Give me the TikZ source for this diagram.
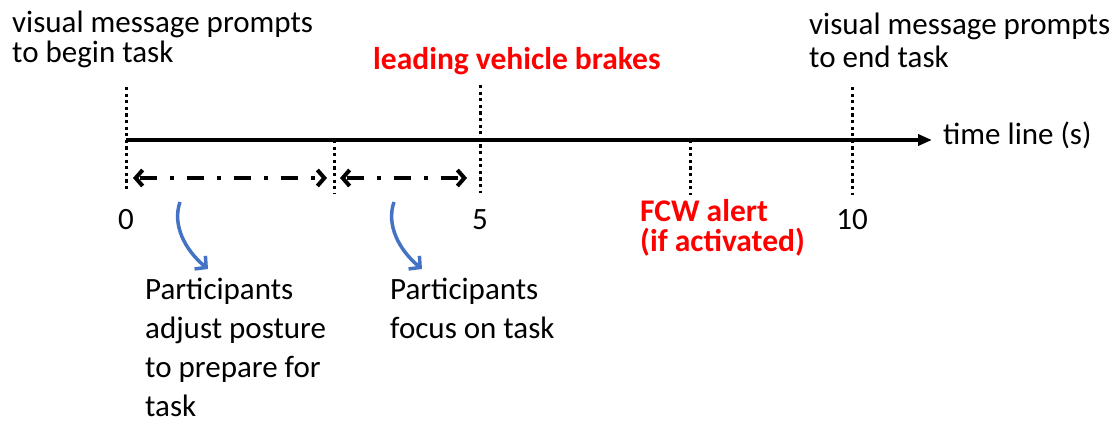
\documentclass[tikz,border=0pt]{standalone}
\usepackage{fontspec}
\setmainfont{Carlito}
\usetikzlibrary{arrows.meta}
\definecolor{alertred}{RGB}{255,0,0}
\definecolor{curveblue}{RGB}{68,114,196}
\tikzset{
  txt/.style={anchor=base west, inner sep=0pt, align=left, font=\fontsize{31}{30}\selectfont},
  redtxt/.style={txt, text=alertred, font=\fontsize{31.5}{30}\selectfont\bfseries},
  numtxt/.style={anchor=base, inner sep=0pt, font=\fontsize{31}{30}\selectfont},
  dotline/.style={line width=3pt, dash pattern=on 3.3pt off 3.3pt},
  span/.style={line width=4pt, dash pattern=on 4pt off 13pt on 17pt off 13pt, dash phase=15pt,
    {Straight Barb[length=7pt,width=16pt]}-{Straight Barb[length=7pt,width=16pt]}},
  bendarrow/.style={curveblue, line width=3.5pt, -{Straight Barb[length=8pt,width=17pt]}}
}
\begin{document}
\begin{tikzpicture}[x=1pt,y=-1pt]
\useasboundingbox (0,0) rectangle (1117,422);
\draw[line width=3.8pt,-{Triangle[length=14pt,width=11pt]}] (126,140) -- (932,140); % edit here for the axis
\node[txt] (axislabel) at (943,145) {time line (s)};
\foreach \x/\t/\b [count=\i] in {126/87/190,334/140/193,480/85/193,690/140/195,852/87/195} % edit here for the dotted marks
\draw[dotline] (\x,\t) coordinate (top\i) -- (\x,\b) coordinate (bot\i);
\foreach \x/\n in {126/0,480/5,852/10} % edit here for the numbers
\node[numtxt] (num\n) at (\x,230) {\n};
% events above and below the line (base = last line)
\node[txt] (begintask) at (12,63) {visual message prompts\\to begin task};
\node[redtxt] (brakes) at (373,70) {leading vehicle brakes};
\node[txt, font=\fontsize{31}{33}\selectfont] (endtask) at (809,68) {visual message prompts\\to end task};
\node[redtxt] (fcw) at (640,252) {FCW alert\\(if activated)};
% the two phases
\coordinate (ph1a) at (133,178); \coordinate (ph1b) at (327,178);
\coordinate (ph2a) at (340,178); \coordinate (ph2b) at (467,178);
\draw[span] (ph1a) -- (ph1b);
\draw[span] (ph2a) -- (ph2b);
\coordinate (cv1a) at (180,202); \coordinate (cv1b) at (208,269);
\coordinate (cv2a) at (394,202); \coordinate (cv2b) at (422,269);
\draw[bendarrow] (cv1a) .. controls (172,225) and (185,250) .. (cv1b);
\draw[bendarrow] (cv2a) .. controls (386,225) and (399,250) .. (cv2b);
\node[txt, font=\fontsize{31}{38.8}\selectfont] (prepare) at (145,416) {Participants\\adjust posture\\to prepare for\\task};
\node[txt, font=\fontsize{31}{38.8}\selectfont] (focus) at (390,338) {Participants\\focus on task};
\end{tikzpicture}
\end{document}
